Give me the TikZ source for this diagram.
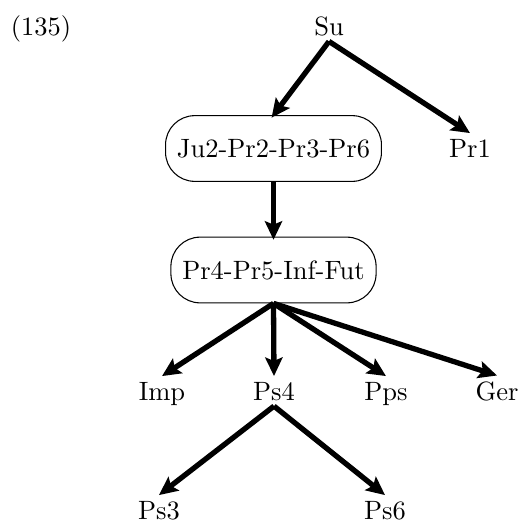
\documentclass[tikz,border=0pt]{standalone}
\usetikzlibrary{arrows.meta}
\begin{document}
\begin{tikzpicture}[x=0.3774pt,y=-0.3774pt,
  arr/.style={line width=2pt,-{Stealth[length=7pt,width=6.5pt,inset=1.3pt]}},
  intobox/.style={shorten >=-1.2pt},
  boxnode/.style={draw,line width=0.4pt,rounded corners=11pt,inner xsep=4.3pt,minimum height=24.8pt},
  leaf/.style={anchor=base,inner ysep=2pt}]
\useasboundingbox (0,0) rectangle (520,521);
\node[leaf] (num) at (41,35) {(135)};
\node[leaf] (su) at (329,35) {Su};
\node[boxnode] (ju) at (273.5,148.5) {Ju2-Pr2-Pr3-Pr6};
\node[leaf] (pr1) at (470,157) {Pr1};
\node[boxnode] (pr4) at (273.5,270) {Pr4-Pr5-Inf-Fut};
\node[leaf] (imp) at (162,400) {Imp};
\node[leaf] (ps4) at (274,400) {Ps4};
\node[leaf] (pps) at (386,400) {Pps};
\node[leaf] (ger) at (497,400) {Ger};
\node[leaf] (ps3) at (159,519) {Ps3};
\node[leaf] (ps6) at (385,519) {Ps6};
\draw[arr,intobox] (su.south) -- (ju.north);
\draw[arr] (su.south) -- (pr1.north);
\draw[arr,intobox] (ju.south) -- (pr4.north);
\draw[arr] (pr4.south) -- (imp.north);
\draw[arr] (pr4.south) -- (ps4.north);
\draw[arr] (pr4.south) -- (pps.north);
\draw[arr] (pr4.south) -- (ger.north);
\draw[arr] (ps4.south) -- (ps3.north);
\draw[arr] (ps4.south) -- (ps6.north);
\end{tikzpicture}
\end{document}
